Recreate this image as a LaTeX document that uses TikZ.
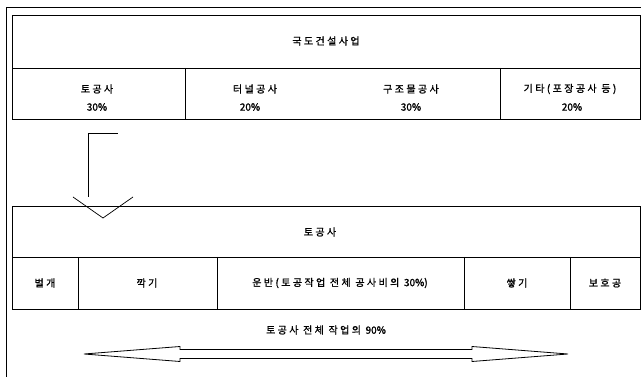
\documentclass[tikz,border=0pt]{standalone}
\usepackage{fontspec}
\newfontfamily\kr[LetterSpace=24,FakeBold=1.2]{Noto Sans CJK KR}
\newfontfamily\krnum[LetterSpace=0,FakeBold=1.2]{Noto Sans CJK KR}
\tikzset{
  frame/.style={draw=black, line width=0.9pt},
  lbl/.style={font=\kr\fontsize{10}{12}\selectfont, inner sep=0pt, text=black},
  num/.style={font=\krnum\fontsize{10}{12}\selectfont, inner sep=0pt, text=black},
  blockarrow/.style={draw=black, line width=0.8pt, fill=white},
}
\begin{document}
\begin{tikzpicture}[x=1pt,y=-1pt]
\useasboundingbox (0,0) rectangle (641,377);
% outer frame lines
\draw[frame] (6,377) -- (6,7) -- (641,7);
% upper box
\draw[frame] (12,15) rectangle (640,119);
\draw[frame] (12,68) -- (640,68);
\draw[frame] (185,68) -- (185,119);
\draw[frame] (500,68) -- (500,119);
\node[lbl] (title) at (326,41) {국도건설사업};
\node[lbl] (t1) at (97,89) {토공사};
\node[num] (p1) at (97,107) {30\%};
\node[lbl] (t2) at (255,89) {터널공사};
\node[num] (p2) at (250,107) {20\%};
\node[lbl] (t3) at (411,89) {구조물공사};
\node[num] (p3) at (411,107) {30\%};
\node[lbl] (t4) at (570,89) {기타(포장공사 등)};
\node[num] (p4) at (572,107) {20\%};
% lower box
\draw[frame] (12,206) rectangle (640,309);
\draw[frame] (12,257) -- (640,257);
\foreach \x in {78,217,464,570} \draw[frame] (\x,257) -- (\x,309);
\node[lbl] (sub) at (320,232) {토공사};
\node[lbl] (c1) at (45,283) {벌개};
\node[lbl] (c2) at (147,283) {깍기};
\node[lbl] (c3) at (340,283) {운반(토공작업 전체 공사비의 {\krnum 30\%})};
\node[lbl] (c4) at (517,283) {쌓기};
\node[lbl] (c5) at (605,283) {보호공};
% down block arrow (right side of shaft not drawn)
\draw[line width=0.7pt] (88,197) -- (88,133) -- (118,133);
\draw[line width=0.7pt] (73,197) -- (103,218) -- (133,197);
% bottom label and double block arrow
\node[lbl] (total) at (326,330) {토공사 전체 작업의 {\krnum 90\%}};
\draw[blockarrow] (84,354) -- (180,346.5) -- (180,349.5) -- (472,349.5) -- (472,346.5)
  -- (568,354) -- (472,361.5) -- (472,358.5) -- (180,358.5) -- (180,361.5) -- cycle;
\end{tikzpicture}
\end{document}
